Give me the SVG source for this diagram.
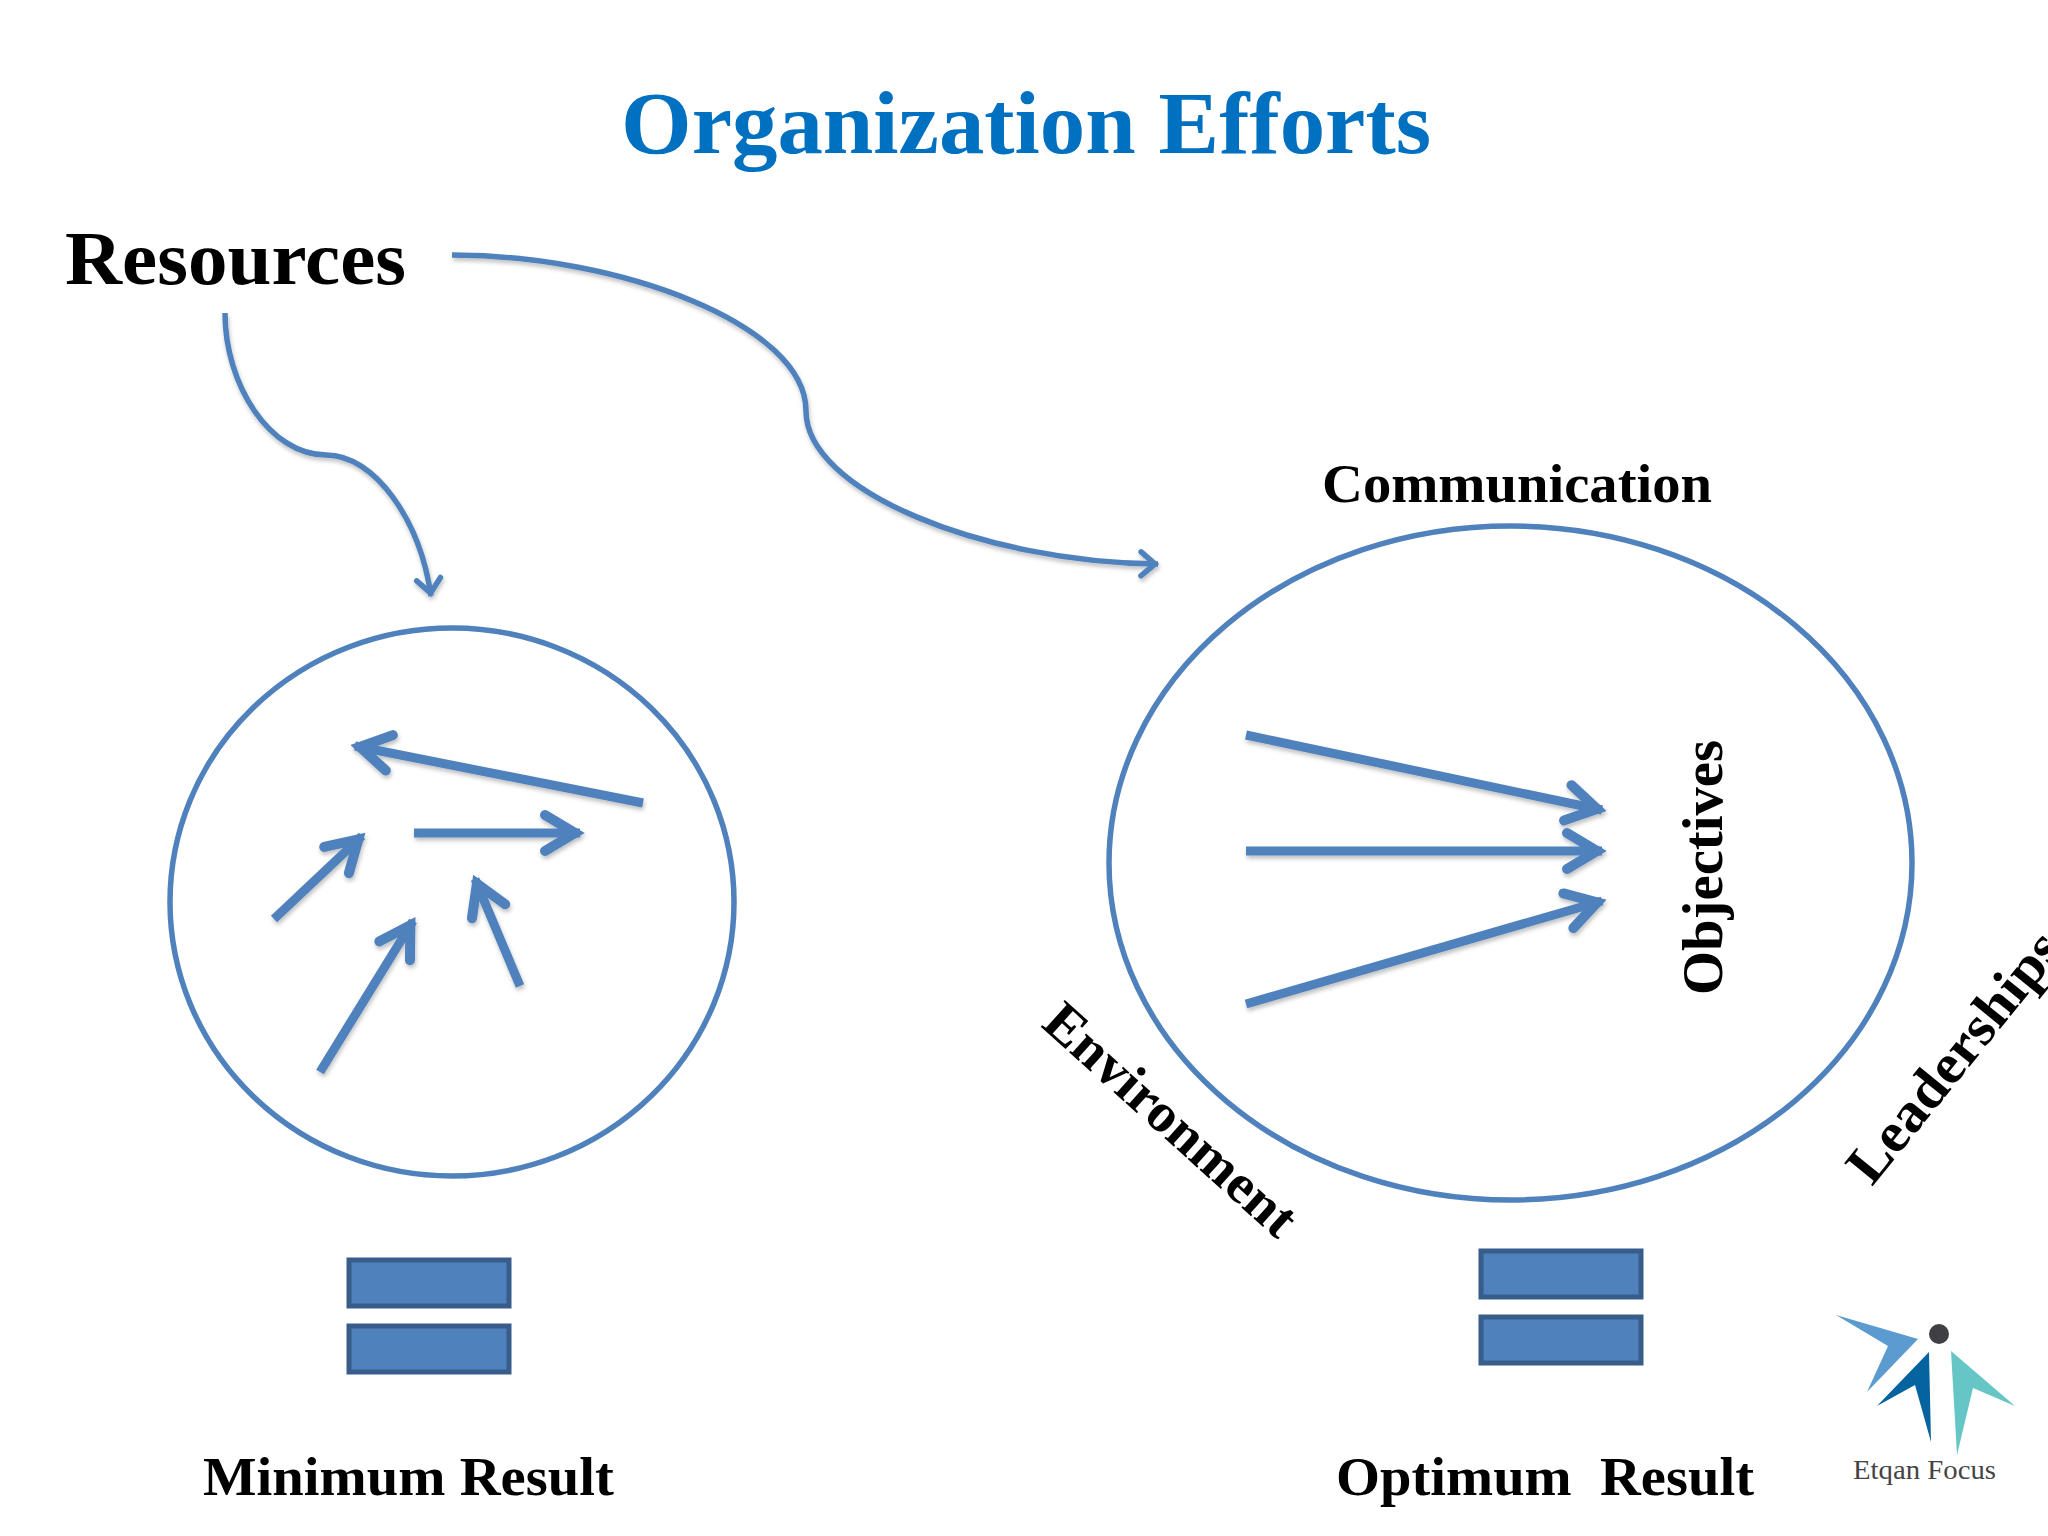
<svg xmlns="http://www.w3.org/2000/svg" width="2048" height="1536" viewBox="0 0 2048 1536">
<style>
text{font-family:"Liberation Serif","Times New Roman",serif;font-weight:bold;fill:#000}
.ring{fill:none;stroke:#4f81bd;stroke-width:5.5}
.eq{fill:#4f81bd;stroke:#385d8a;stroke-width:5}
.thick{fill:none;stroke:#4f81bd;stroke-width:9;marker-end:url(#big);filter:url(#sh)}
.thin{fill:none;stroke:#4f81bd;stroke-width:5.5;marker-end:url(#small);filter:url(#sh)}
</style>
<defs>
<marker id="big" markerUnits="userSpaceOnUse" markerWidth="60" markerHeight="60" refX="50" refY="30" orient="auto" overflow="visible">
<path d="M15,12 L45,30 L15,48" fill="none" stroke="#4f81bd" stroke-width="10" stroke-linecap="round" stroke-linejoin="miter"/>
<path d="M28,22 L52,30 L28,38 Z" fill="#4f81bd"/>
</marker>
<marker id="small" markerUnits="userSpaceOnUse" markerWidth="40" markerHeight="40" refX="30" refY="20" orient="auto" overflow="visible">
<path d="M13,8 L27,20 L13,32" fill="none" stroke="#4f81bd" stroke-width="5.5" stroke-linecap="round" stroke-linejoin="miter"/>
</marker>
<filter id="sh" filterUnits="userSpaceOnUse" x="0" y="0" width="2048" height="1536">
<feDropShadow dx="1" dy="3" stdDeviation="2" flood-color="#000" flood-opacity="0.25"/>
</filter>
</defs>
<rect width="2048" height="1536" fill="#fff"/>
<g id="title"><text x="621" y="153" font-size="89" textLength="810" lengthAdjust="spacingAndGlyphs" style="fill:#0070c0">Organization Efforts</text></g>
<g id="resources"><text x="65" y="284" font-size="77" textLength="341" lengthAdjust="spacingAndGlyphs">Resources</text></g>
<g id="connectors">
<path class="thin" d="M452,255 C620,255 806,325 806,411 C806,490 980,562 1158,564"/>
<path class="thin" d="M225,313 C225,385 270,455 326,455 C375,455 420,520 431,596"/>
</g>
<g id="minimum-circle">
<ellipse class="ring" cx="452" cy="902" rx="282" ry="274"/>
<path class="thick" d="M643,803 L355,746"/>
<path class="thick" d="M414,833 L580,833"/>
<path class="thick" d="M274,919 L362,836"/>
<path class="thick" d="M320,1072 L413,921"/>
<path class="thick" d="M520,986 L475,879"/>
</g>
<g id="optimum-circle">
<ellipse class="ring" cx="1510.500" cy="863" rx="401.500" ry="337"/>
<path class="thick" d="M1246,735 L1602,810"/>
<path class="thick" d="M1246,851 L1602,851"/>
<path class="thick" d="M1246,1004 L1602,901"/>
</g>
<g id="communication"><text x="1322" y="502" font-size="55" textLength="390" lengthAdjust="spacingAndGlyphs">Communication</text></g>
<g id="objectives"><text transform="translate(1722,995) rotate(-90)" font-size="56" textLength="255" lengthAdjust="spacingAndGlyphs">Objectives</text></g>
<g id="environment"><text transform="translate(1040,1026) rotate(42)" font-size="55" textLength="320" lengthAdjust="spacingAndGlyphs">Environment</text></g>
<g id="leaderships"><text transform="translate(1872,1187) rotate(-51)" font-size="56" textLength="306" lengthAdjust="spacingAndGlyphs">Leaderships</text></g>
<g id="equals-left">
<rect class="eq" x="349" y="1260" width="160" height="46"/>
<rect class="eq" x="349" y="1326" width="160" height="46"/>
</g>
<g id="equals-right">
<rect class="eq" x="1481" y="1251" width="160" height="46"/>
<rect class="eq" x="1481" y="1317" width="160" height="46"/>
</g>
<g id="minimum-result"><text x="203" y="1495" font-size="55" textLength="411" lengthAdjust="spacingAndGlyphs">Minimum Result</text></g>
<g id="optimum-result"><text x="1336" y="1495" font-size="55" textLength="418" lengthAdjust="spacingAndGlyphs" xml:space="preserve">Optimum  Result</text></g>
<g id="logo">
<polygon points="1836,1315 1918,1339 1867,1392 1888,1346" fill="#5b9bd0"/>
<polygon points="1929,1352 1931,1442 1915,1385 1877,1406" fill="#05639f"/>
<polygon points="1951,1351 2015,1406 1973,1388 1957,1455" fill="#66c6c6"/>
<circle cx="1939" cy="1334" r="10" fill="#3f3f44"/>
<text x="1853" y="1479" font-size="28" textLength="143" lengthAdjust="spacingAndGlyphs" style="font-weight:normal;fill:#444">Etqan Focus</text>
</g>
</svg>
